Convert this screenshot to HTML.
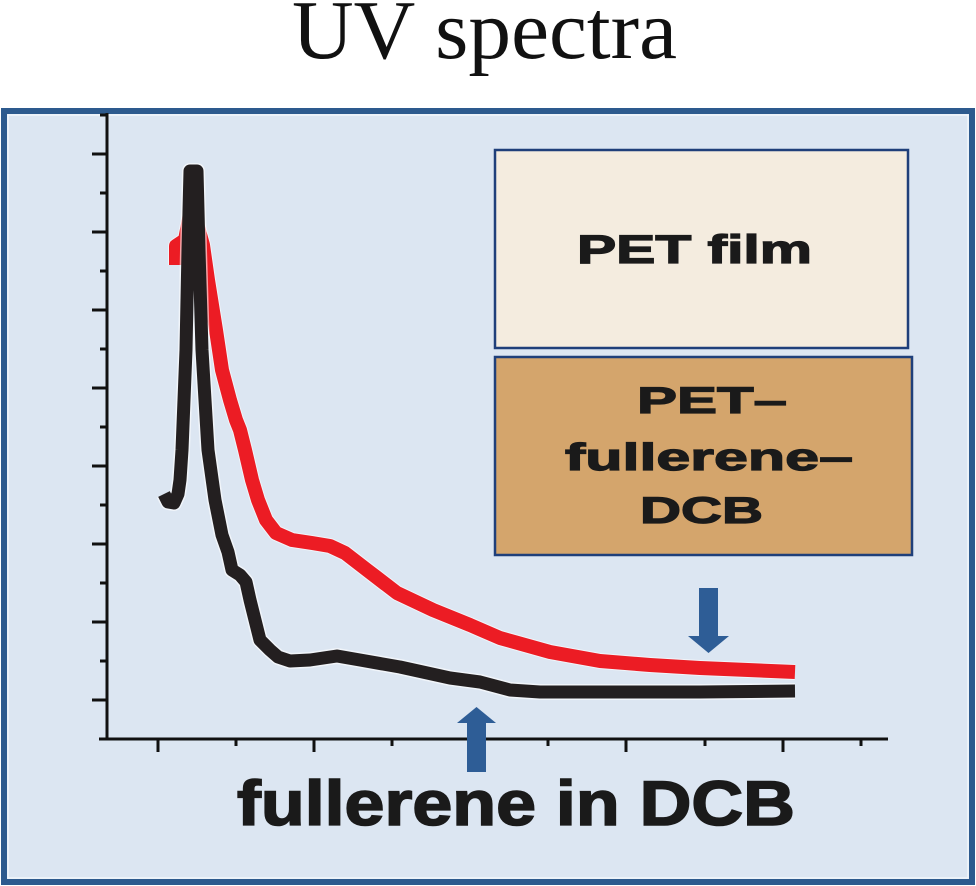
<!DOCTYPE html>
<html>
<head>
<meta charset="utf-8">
<style>
  html,body{margin:0;padding:0;background:#ffffff;}
  svg{display:block;}
</style>
</head>
<body>
<svg width="976" height="886" viewBox="0 0 976 886" xmlns="http://www.w3.org/2000/svg">
  <rect x="0" y="0" width="976" height="886" fill="#ffffff"/>
  <!-- Title -->
  <text x="292" y="58" font-family="'Liberation Serif', serif" font-size="84" fill="#111" textLength="385" lengthAdjust="spacingAndGlyphs">UV spectra</text>

  <!-- Frame -->
  <rect x="4" y="111" width="968" height="771" fill="#dce6f2" stroke="#2d5a8e" stroke-width="6"/>
  <rect x="8" y="115" width="960" height="763" fill="none" stroke="#f2f6fb" stroke-width="1.5"/>

  <!-- Legend boxes -->
  <rect x="495" y="150" width="413" height="198" fill="#f4ecdf" stroke="#1f3f7a" stroke-width="2.5"/>
  <text x="577" y="263" font-family="'Liberation Sans', sans-serif" font-weight="bold" font-size="40" fill="#1a1a1a" stroke="#1a1a1a" stroke-width="1.3" textLength="235" lengthAdjust="spacingAndGlyphs">PET film</text>

  <rect x="495" y="357" width="417" height="198" fill="#d4a56c" stroke="#1f3f7a" stroke-width="2.5"/>
  <text x="637" y="413" font-family="'Liberation Sans', sans-serif" font-weight="bold" font-size="37" fill="#1a1a1a" stroke="#1a1a1a" stroke-width="1.2" textLength="150" lengthAdjust="spacingAndGlyphs">PET–</text>
  <text x="565" y="470" font-family="'Liberation Sans', sans-serif" font-weight="bold" font-size="38" fill="#1a1a1a" stroke="#1a1a1a" stroke-width="1.2" textLength="288" lengthAdjust="spacingAndGlyphs">fullerene–</text>
  <text x="640" y="523" font-family="'Liberation Sans', sans-serif" font-weight="bold" font-size="37" fill="#1a1a1a" stroke="#1a1a1a" stroke-width="1.2" textLength="123" lengthAdjust="spacingAndGlyphs">DCB</text>

  <!-- Axes -->
  <g stroke="#111" stroke-width="3" fill="none">
    <line x1="107" y1="113" x2="107" y2="740"/>
    <line x1="99" y1="739" x2="888" y2="739"/>
    <line x1="92" y1="154" x2="107" y2="154"/>
    <line x1="92" y1="232" x2="107" y2="232"/>
    <line x1="92" y1="310" x2="107" y2="310"/>
    <line x1="92" y1="388" x2="107" y2="388"/>
    <line x1="92" y1="466" x2="107" y2="466"/>
    <line x1="92" y1="544" x2="107" y2="544"/>
    <line x1="92" y1="622" x2="107" y2="622"/>
    <line x1="92" y1="700" x2="107" y2="700"/>
    <line x1="100" y1="115" x2="107" y2="115"/>
    <line x1="100" y1="193" x2="107" y2="193"/>
    <line x1="100" y1="271" x2="107" y2="271"/>
    <line x1="100" y1="349" x2="107" y2="349"/>
    <line x1="100" y1="427" x2="107" y2="427"/>
    <line x1="100" y1="505" x2="107" y2="505"/>
    <line x1="100" y1="583" x2="107" y2="583"/>
    <line x1="100" y1="661" x2="107" y2="661"/>
    <line x1="158" y1="739" x2="158" y2="752"/>
    <line x1="314" y1="739" x2="314" y2="752"/>
    <line x1="470" y1="739" x2="470" y2="752"/>
    <line x1="626" y1="739" x2="626" y2="752"/>
    <line x1="783" y1="739" x2="783" y2="752"/>
    <line x1="236" y1="739" x2="236" y2="746"/>
    <line x1="392" y1="739" x2="392" y2="746"/>
    <line x1="548" y1="739" x2="548" y2="746"/>
    <line x1="705" y1="739" x2="705" y2="746"/>
    <line x1="861" y1="739" x2="861" y2="746"/>
  </g>

  <!-- Red curve (PET-fullerene-DCB) -->
  <path d="M176,265 L176,246 L185,240 L190,214 L196,220 L203,245 L208,280 L216,330 L222,370 L230,400 L236,420 L240,430 L245,450 L252,480 L258,500 L266,520 L276,533 L292,540 L312,543 L330,546 L345,553 L367,570 L397,593 L433,610 L470,625 L500,638 L550,652 L600,661 L650,665 L700,668 L795,672"
        fill="none" stroke="#ffffff" stroke-opacity="0.6" stroke-width="16" stroke-linejoin="round" stroke-linecap="butt"/>
  <path d="M176,265 L176,246 L185,240 L190,214 L196,220 L203,245 L208,280 L216,330 L222,370 L230,400 L236,420 L240,430 L245,450 L252,480 L258,500 L266,520 L276,533 L292,540 L312,543 L330,546 L345,553 L367,570 L397,593 L433,610 L470,625 L500,638 L550,652 L600,661 L650,665 L700,668 L795,672"
        fill="none" stroke="#ec1c24" stroke-width="14" stroke-linejoin="round" stroke-linecap="butt"/>

  <!-- Black curve (fullerene in DCB) -->
  <path d="M164,494 L168,502 L174,503 L178,494 L180,480 L182,450 L184,400 L186,350 L188,250 L190,171 L197,171 L199,250 L202,350 L205,400 L208,450 L215,500 L222,535 L228,552 L232,570 L240,575 L246,582 L250,600 L260,640 L270,650 L278,657 L290,661 L310,660 L337,656 L360,660 L400,667 L450,678 L480,682 L510,690 L540,692 L600,692 L700,692 L795,691"
        fill="none" stroke="#ffffff" stroke-opacity="0.6" stroke-width="16" stroke-linejoin="round" stroke-linecap="butt"/>
  <path d="M164,494 L168,502 L174,503 L178,494 L180,480 L182,450 L184,400 L186,350 L188,250 L190,171 L197,171 L199,250 L202,350 L205,400 L208,450 L215,500 L222,535 L228,552 L232,570 L240,575 L246,582 L250,600 L260,640 L270,650 L278,657 L290,661 L310,660 L337,656 L360,660 L400,667 L450,678 L480,682 L510,690 L540,692 L600,692 L700,692 L795,691"
        fill="none" stroke="#231f20" stroke-width="13" stroke-linejoin="round" stroke-linecap="butt"/>

  <!-- Arrows -->
  <polygon points="467,772 486,772 486,723 496,723 476.5,707 457,723 467,723" fill="#2e5d96"/>
  <polygon points="699,588 718,588 718,636 729,636 708.5,653 688,636 699,636" fill="#2e5d96"/>

  <!-- Bottom label -->
  <text x="237" y="825" font-family="'Liberation Sans', sans-serif" font-weight="bold" font-size="63" fill="#1a1a1a" stroke="#1a1a1a" stroke-width="1.6" textLength="558" lengthAdjust="spacingAndGlyphs">fullerene in DCB</text>
</svg>
</body>
</html>
